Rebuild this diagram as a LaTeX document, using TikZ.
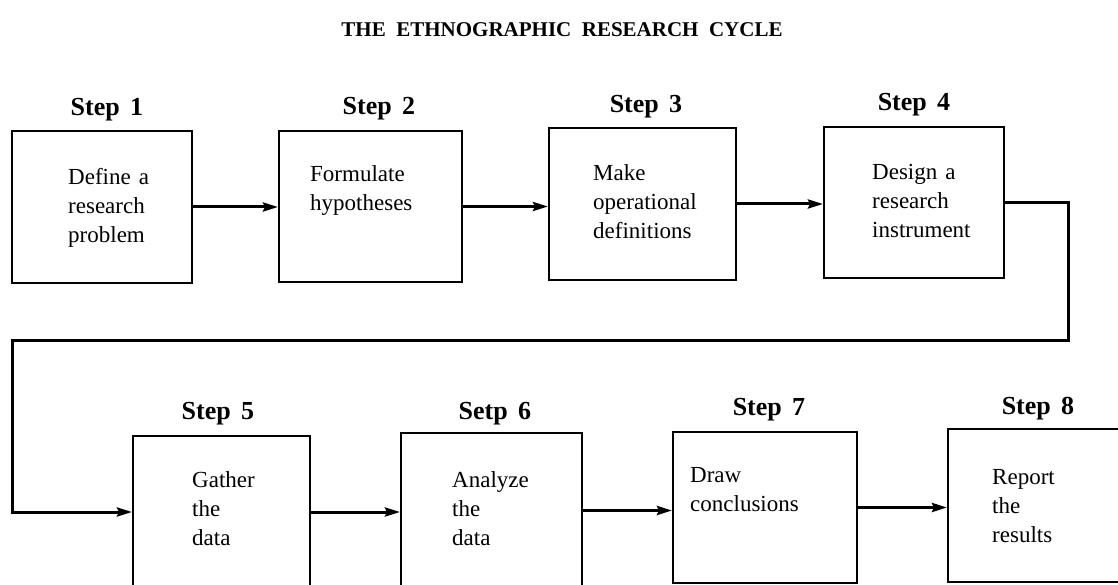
\documentclass[tikz,border=0pt]{standalone}
\usepackage{fontspec}
\setmainfont{Liberation Serif}
\usetikzlibrary{arrows.meta}
\begin{document}
\begin{tikzpicture}[x=1pt,y=-1pt,
  box/.style={draw, line width=2pt, inner sep=0pt},
  body/.style={anchor=base west, align=left, inner sep=0pt, font=\fontsize{23}{29}\selectfont},
  steplbl/.style={anchor=base, inner sep=0pt, font=\fontsize{26}{30}\selectfont\bfseries},
  conn/.style={line width=3pt, -{Stealth[length=15pt,width=9pt,inset=2pt]}},
  ]
\useasboundingbox (0,0) rectangle (1118,585);
% title
\node[anchor=base, inner sep=0pt, font=\fontsize{21}{25}\selectfont\bfseries] (title) at (562,37)
  {THE\hspace{.5em}ETHNOGRAPHIC\hspace{.5em}RESEARCH\hspace{.5em}CYCLE};
% boxes
\node[box, minimum width=180pt, minimum height=152pt] (b1) at (102,207) {};
\node[box, minimum width=183pt, minimum height=151pt] (b2) at (370.5,206.5) {};
\node[box, minimum width=187pt, minimum height=152pt] (b3) at (642.5,204) {};
\node[box, minimum width=180pt, minimum height=151pt] (b4) at (914,202.5) {};
\node[box, minimum width=177pt, minimum height=152pt] (b5) at (221.5,512) {};
\node[box, minimum width=181pt, minimum height=155pt] (b6) at (491.5,510.5) {};
\node[box, minimum width=184pt, minimum height=151pt] (b7) at (765,507.5) {};
\node[box, minimum width=180pt, minimum height=153pt] (b8) at (1038,505.5) {};
% step labels
\node[steplbl] (s1) at (107,116) {Step\hspace{.4em}1};
\node[steplbl] (s2) at (379,115) {Step\hspace{.4em}2};
\node[steplbl] (s3) at (646,113) {Step\hspace{.4em}3};
\node[steplbl] (s4) at (914,111) {Step\hspace{.4em}4};
\node[steplbl] (s5) at (218,419) {Step\hspace{.4em}5};
\node[steplbl] (s6) at (495,419) {Setp\hspace{.4em}6};
\node[steplbl] (s7) at (769,415) {Step\hspace{.4em}7};
\node[steplbl] (s8) at (1038,414) {Step\hspace{.4em}8};
% box texts (anchor is the baseline of the last line)
\node[body] (t1) at (68,243) {Define\hspace{.35em}a\\research\\problem};
\node[body] (t2) at (310,211) {Formulate\\hypotheses};
\node[body] (t3) at (593,239) {Make\\operational\\definitions};
\node[body] (t4) at (872,238) {Design\hspace{.35em}a\\research\\instrument};
\node[body] (t5) at (192,545) {Gather\\the\\data};
\node[body] (t6) at (452,545) {Analyze\\the\\data};
\node[body] (t7) at (690,511) {Draw\\conclusions};
\node[body] (t8) at (992,542) {Report\\the\\results};
% connectors
\coordinate (lr) at (1068,340);
\coordinate (ll) at (12,340);
\draw[conn] (b1.east) -- (b1.east -| b2.west);
\draw[conn] (b2.east) -- (b2.east -| b3.west);
\draw[conn] (b3.east) -- (b3.east -| b4.west);
\draw[conn] (b4.east) -- (b4.east -| lr) |- (ll) |- (b5.west);
\draw[conn] (b5.east) -- (b5.east -| b6.west);
\draw[conn] (b6.east) -- (b6.east -| b7.west);
\draw[conn] (b7.east) -- (b7.east -| b8.west);
\end{tikzpicture}
\end{document}
